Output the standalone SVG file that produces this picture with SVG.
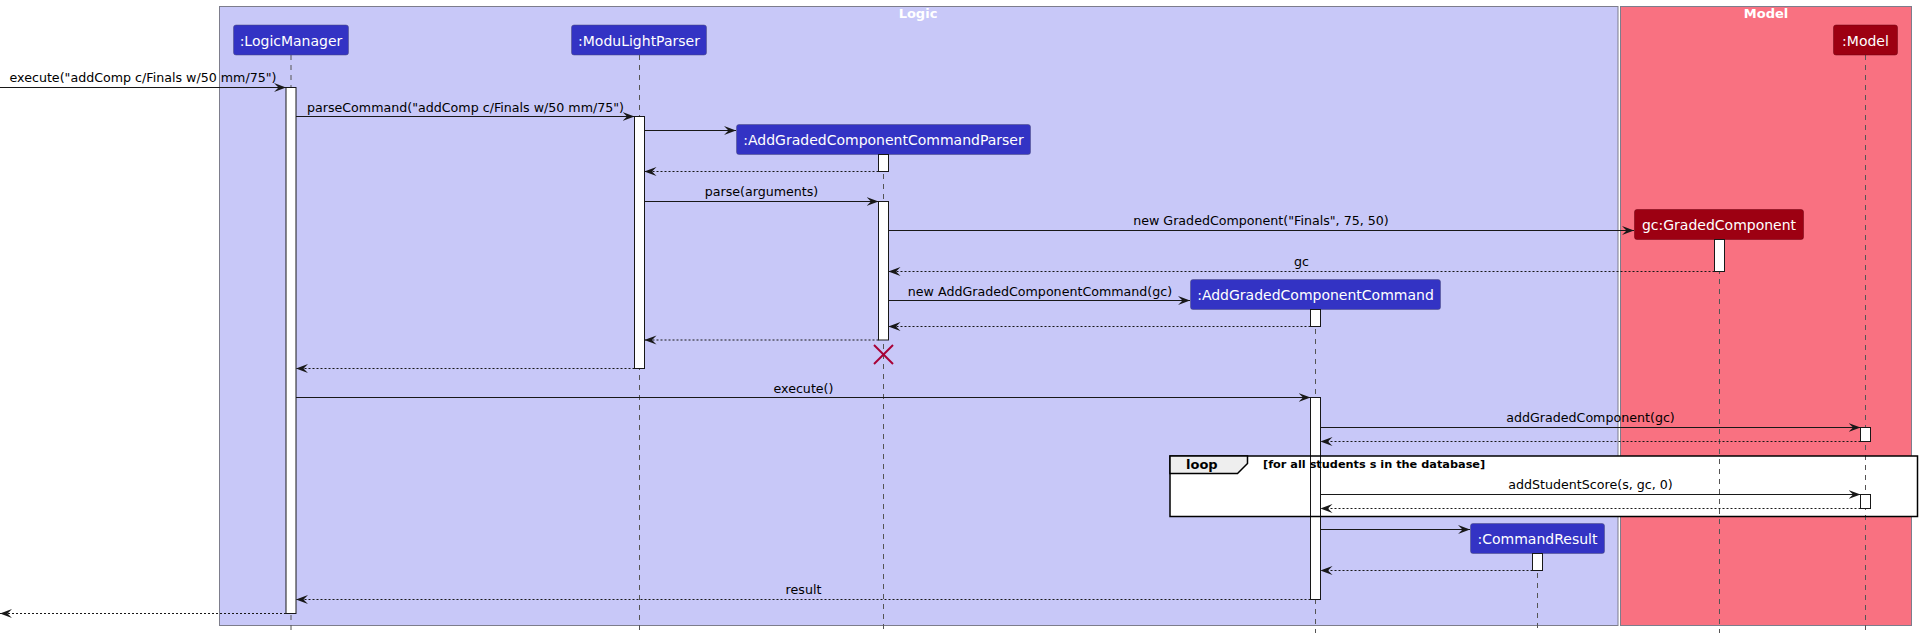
<svg xmlns="http://www.w3.org/2000/svg" width="1922" height="637" viewBox="0 0 1922 637">
<style>
.panel{stroke:#7d7d8c;stroke-width:1}
.ptitle{font-family:"DejaVu Sans",sans-serif;font-size:13px;font-weight:bold;fill:#ffffff;text-anchor:middle}
.pbox{stroke:#4b4b7a;stroke-width:0.5}
.lbox{fill:#3333C4}
.mbox{fill:#9D0012;stroke:#6a0010}
.pname{font-family:"DejaVu Sans",sans-serif;font-size:14px;fill:#ffffff;text-anchor:middle}
.life{stroke:#555555;stroke-width:1;stroke-dasharray:5,5}
.act{fill:#ffffff;stroke:#181818;stroke-width:1}
.msg{stroke:#181818;stroke-width:1;fill:none;marker-end:url(#ah)}
.ret{stroke:#181818;stroke-width:1;fill:none;stroke-dasharray:2,2;marker-end:url(#ah)}
.mtxt{font-family:"DejaVu Sans",sans-serif;font-size:12.65px;fill:#000000;text-anchor:middle}
.loopb{font-family:"DejaVu Sans",sans-serif;font-size:13px;font-weight:bold;fill:#000000}
.guard{font-family:"DejaVu Sans",sans-serif;font-size:11.3px;font-weight:bold;fill:#000000}
</style>
<defs>
<marker id="ah" viewBox="0 0 12 10" refX="12" refY="5" markerWidth="12" markerHeight="10" markerUnits="userSpaceOnUse" orient="auto">
<path d="M0,0.5 L12,5 L0,9.5 L4.5,5 Z" fill="#181818"/>
</marker>
</defs>
<rect x="0" y="0" width="1922" height="637" fill="#ffffff"/>

<g id="box-logic">
<rect class="panel" x="219.5" y="6.5" width="1398.5" height="619" fill="#C8C8F8"/>
<text class="ptitle" x="918" y="18">Logic</text>
</g>
<g id="box-model">
<rect class="panel" x="1620.5" y="6.5" width="291" height="619" fill="#F97181"/>
<text class="ptitle" x="1766" y="18">Model</text>
</g>

<g id="loop-frame">
<rect x="1170" y="456" width="747.5" height="60.5" fill="#ffffff" stroke="none"/>
</g>

<g id="p-logicmanager">
<line class="life" x1="291" y1="55" x2="291" y2="633"/>
<rect class="pbox lbox" x="233.5" y="25" width="115" height="30" rx="2.5"/>
<text class="pname" x="291" y="45.5">:LogicManager</text>
<rect class="act" x="286" y="87.5" width="10" height="526"/>
</g>
<g id="p-modulightparser">
<line class="life" x1="639.5" y1="55" x2="639.5" y2="633"/>
<rect class="pbox lbox" x="571.5" y="25" width="135" height="30" rx="2.5"/>
<text class="pname" x="639" y="45.5">:ModuLightParser</text>
<rect class="act" x="634.5" y="116.5" width="10" height="252"/>
</g>
<g id="p-addgradedcomponentcommandparser">
<line class="life" x1="883.5" y1="154" x2="883.5" y2="633"/>
<rect class="pbox lbox" x="736.5" y="124.5" width="294" height="30" rx="2.5"/>
<text class="pname" x="883.5" y="145">:AddGradedComponentCommandParser</text>
<rect class="act" x="878.5" y="154.5" width="10" height="17"/>
<rect class="act" x="878.5" y="201.5" width="10" height="138.5"/>
<g stroke="#A80036" stroke-width="2">
<line x1="874" y1="345" x2="893" y2="364"/>
<line x1="893" y1="345" x2="874" y2="364"/>
</g>
</g>
<g id="p-gradedcomponent">
<line class="life" x1="1719.5" y1="239" x2="1719.5" y2="633"/>
<rect class="pbox mbox" x="1634.5" y="209.5" width="169" height="30" rx="2.5"/>
<text class="pname" x="1719" y="230">gc:GradedComponent</text>
<rect class="act" x="1714.5" y="239.5" width="10" height="32"/>
</g>
<g id="p-addgradedcomponentcommand">
<line class="life" x1="1315.5" y1="309" x2="1315.5" y2="633"/>
<rect class="pbox lbox" x="1190.5" y="279.5" width="250" height="30" rx="2.5"/>
<text class="pname" x="1315.5" y="300">:AddGradedComponentCommand</text>
<rect class="act" x="1310.5" y="309.5" width="10" height="17"/>
<rect class="act" x="1310.5" y="397.5" width="10" height="202"/>
</g>
<g id="p-commandresult">
<line class="life" x1="1537.5" y1="553" x2="1537.5" y2="633"/>
<rect class="pbox lbox" x="1470.5" y="523.5" width="134" height="30" rx="2.5"/>
<text class="pname" x="1537.5" y="544">:CommandResult</text>
<rect class="act" x="1532.5" y="553.5" width="10" height="17"/>
</g>
<g id="p-model">
<line class="life" x1="1865.5" y1="55" x2="1865.5" y2="633"/>
<rect class="pbox mbox" x="1833.5" y="25" width="64" height="30" rx="2.5"/>
<text class="pname" x="1865.5" y="45.5">:Model</text>
<rect class="act" x="1860.5" y="427.5" width="10" height="14"/>
<rect class="act" x="1860.5" y="494.5" width="10" height="14"/>
</g>

<g id="loop-border">
<rect x="1170" y="456" width="747.5" height="60.5" fill="none" stroke="#000000" stroke-width="1.5"/>
<polygon points="1170,456 1247.5,456 1247.5,463.5 1237.5,473.5 1170,473.5" fill="#EEEEEE" stroke="#000000" stroke-width="1.5"/>
<text class="loopb" x="1186" y="469">loop</text>
<text class="guard" x="1263" y="467.5">[for all students s in the database]</text>
</g>

<g id="connectors">
<line class="msg" x1="0" y1="87.5" x2="286" y2="87.5"/>
<text class="mtxt" x="143" y="82">execute("addComp c/Finals w/50 mm/75")</text>
<line class="msg" x1="296" y1="116.5" x2="634.5" y2="116.5"/>
<text class="mtxt" x="465.5" y="111.5">parseCommand("addComp c/Finals w/50 mm/75")</text>
<line class="msg" x1="644.5" y1="130.5" x2="736" y2="130.5"/>
<line class="ret" x1="878.5" y1="171.5" x2="644.5" y2="171.5"/>
<line class="msg" x1="644.5" y1="201.5" x2="878.5" y2="201.5"/>
<text class="mtxt" x="761.5" y="196">parse(arguments)</text>
<line class="msg" x1="888.5" y1="230.5" x2="1634" y2="230.5"/>
<text class="mtxt" x="1261" y="225">new GradedComponent("Finals", 75, 50)</text>
<line class="ret" x1="1714.5" y1="271.5" x2="888.5" y2="271.5"/>
<text class="mtxt" x="1301.5" y="266">gc</text>
<line class="msg" x1="888.5" y1="300.5" x2="1190" y2="300.5"/>
<text class="mtxt" x="1040" y="295.5">new AddGradedComponentCommand(gc)</text>
<line class="ret" x1="1310.5" y1="326.5" x2="888.5" y2="326.5"/>
<line class="ret" x1="878.5" y1="340" x2="644.5" y2="340"/>
<line class="ret" x1="634.5" y1="368.5" x2="296" y2="368.5"/>
<line class="msg" x1="296" y1="397.5" x2="1310.5" y2="397.5"/>
<text class="mtxt" x="803.5" y="392.5">execute()</text>
<line class="msg" x1="1320.5" y1="427.5" x2="1860.5" y2="427.5"/>
<text class="mtxt" x="1590.5" y="422">addGradedComponent(gc)</text>
<line class="ret" x1="1860.5" y1="441.5" x2="1320.5" y2="441.5"/>
<line class="msg" x1="1320.5" y1="494.5" x2="1860.5" y2="494.5"/>
<text class="mtxt" x="1590.5" y="489">addStudentScore(s, gc, 0)</text>
<line class="ret" x1="1860.5" y1="508.5" x2="1320.5" y2="508.5"/>
<line class="msg" x1="1320.5" y1="529.5" x2="1470" y2="529.5"/>
<line class="ret" x1="1532.5" y1="570.5" x2="1320.5" y2="570.5"/>
<line class="ret" x1="1310.5" y1="599.5" x2="296" y2="599.5"/>
<text class="mtxt" x="803.5" y="594">result</text>
<line class="ret" x1="286" y1="613.5" x2="0" y2="613.5"/>
</g>
</svg>
